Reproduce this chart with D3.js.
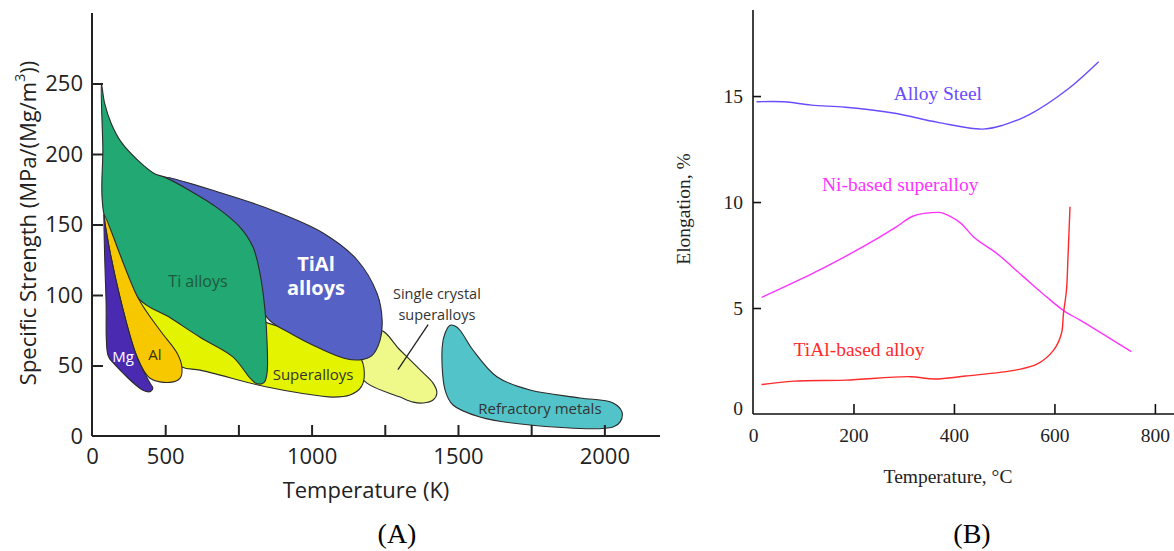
<!DOCTYPE html>
<html><head><meta charset="utf-8">
<script src="https://cdn.jsdelivr.net/npm/d3@7"></script>
<style>body{margin:0;background:#fff}svg{display:block}</style>
</head><body>
<svg id="c" width="1174" height="551"></svg>
<script>
// ---------- Panel A data: regions as [Temperature K, Specific strength] outlines ----------
const tiAlloys = [[282,250],[293,236],[316,221.5],[350,208.4],[407,195.5],[464,186],[498,183.6],[585,174],[677,162],[756,148],[800,134],[824,115],[841,89],[848,66],[848,45],[838,38],[814,37],[790,41],[732,56],[619,70],[516,84],[407,98],[291,157],[287,205]];
const tiAlAlloys = [[493,183.6],[697,172],[868,160],[1039,144],[1155,125],[1224,101],[1241,82],[1234,68],[1206,57],[1165,54],[1114,55],[1029,62],[926,73],[848,84],[790,118],[619,167]];
const superalloys = [[407,98],[560,90],[760,85],[930,75],[1100,64],[1165,56],[1180,45],[1170,35],[1131,29],[1073,27.6],[960,30.5],[848,34.7],[619,46.7],[557,49],[480,65]];
const singleCrystal = [[1165,64],[1234,75],[1302,61],[1370,47],[1415,37.5],[1428,30.5],[1415,25.5],[1381,23.4],[1347,24],[1302,27.6],[1189,37.5],[1150,48]];
const refractory = [[1490,78],[1507,75],[1551,61],[1633,42],[1746,32.6],[1917,27],[2030,23.4],[2060,17],[2054,10],[2030,6.4],[1746,7.8],[1575,13.5],[1483,22],[1456,32.6],[1446,63],[1456,73],[1473,78.6]];
const mgAlloys = [[291,157],[298,146],[346,98],[404,56],[448,37.5],[458,34],[450,31.5],[424,32.5],[322,52],[305,57],[298,96]];
const alAlloys = [[291,157],[407,98],[482,75],[540,59],[557,49],[551,41],[516,38],[448,41],[404,56],[346,98],[298,146]];
const regionNames = ["Single crystal superalloys","Superalloys","Refractory metals","TiAl alloys","Ti alloys","Al","Mg"];
const regionColors = ["#eef98a","#e4f400","#52c3c8","#5561c4","#22a873","#f7c800","#4a2ab0"];
const regionData = [singleCrystal, superalloys, refractory, tiAlAlloys, tiAlloys, alAlloys, mgAlloys];
const labelsA = [
  {t:"Mg", x:356, y:57, c:"#ffffff", w:"normal", s:15},
  {t:"Al", x:465, y:58, c:"#3a3000", w:"normal", s:15},
  {t:"Ti alloys", x:612, y:110, c:"#1d5a3c", w:"normal", s:16},
  {t:"TiAl", x:1015, y:122.5, c:"#ffffff", w:"bold", s:20},
  {t:"alloys", x:1015, y:105, c:"#ffffff", w:"bold", s:20},
  {t:"Superalloys", x:1005, y:44, c:"#333333", w:"normal", s:15},
  {t:"Single crystal", x:1428, y:101, c:"#333333", w:"normal", s:14.5},
  {t:"superalloys", x:1428, y:86, c:"#333333", w:"normal", s:14.5},
  {t:"Refractory metals", x:1780, y:20, c:"#333333", w:"normal", s:15}
];
const leaderLine = [[1295,47],[1398,79]];
const xTicksA = [250,500,750,1000,1250,1500,1750,2000];
const xLabelA = {250:"0",500:"500",1000:"1000",1500:"1500",2000:"2000"};
const yTicksA = [0,50,100,150,200,250];

// ---------- Panel B data ----------
const alloySteelT = [7,61,116,184,279,368,457,498,552,627,688];
const alloySteelE = [14.73,14.73,14.57,14.47,14.2,13.76,13.44,13.63,14.15,15.33,16.62];
const niSuperT = [17,116,157,253,286,319,369,378,412,442,485,538,584,621,651,753];
const niSuperE = [5.5,6.6,7.09,8.36,8.84,9.34,9.51,9.48,9.03,8.29,7.58,6.48,5.53,4.83,4.43,2.94];
const tialT = [17,82,184,313,361,423,525,566,598,614,618,624,627,631];
const tialE = [1.39,1.55,1.6,1.76,1.65,1.79,2.08,2.36,3.0,3.8,4.75,5.85,7.42,9.78];
const seriesB = [
  {name:"Alloy Steel", T:alloySteelT, E:alloySteelE, color:"#6a4cff", lx:368, ly:15.1},
  {name:"Ni-based superalloy", T:niSuperT, E:niSuperE, color:"#ff33ff", lx:293, ly:10.85},
  {name:"TiAl-based alloy", T:tialT, E:tialE, color:"#ff2a2a", lx:211, ly:3.02}
];
const xTicksB = [0,200,400,600,800];
const yTicksB = [0,5,10,15];

const svg = d3.select("#c");

// ================= Panel A =================
const sansA = "'Open Sans', 'Noto Sans', sans-serif";
const xA = d3.scaleLinear().domain([250, 2190]).range([92, 660]);
const yA = d3.scaleLinear().domain([0, 300]).range([436, 13]);
const gA = svg.append("g");

const area = d3.line().x(d=>xA(d[0])).y(d=>yA(d[1])).curve(d3.curveCatmullRomClosed.alpha(0.5));
gA.selectAll("path.region").data(regionData).join("path")
  .attr("class","region")
  .attr("d", d=>area(d))
  .attr("fill",(d,i)=>regionColors[i])
  .attr("stroke","#2b2b2b").attr("stroke-width",1.1);

gA.append("path").attr("d", d3.line().x(d=>xA(d[0])).y(d=>yA(d[1]))(leaderLine))
  .attr("stroke","#222").attr("stroke-width",1.3).attr("fill","none");

gA.selectAll("text.lab").data(labelsA).join("text").attr("class","lab")
  .attr("x",d=>xA(d.x)).attr("y",d=>yA(d.y))
  .attr("text-anchor","middle").attr("dominant-baseline","central")
  .attr("font-family",sansA).attr("font-size",d=>d.s).attr("font-weight",d=>d.w)
  .attr("fill",d=>d.c).text(d=>d.t);

// axes
const axA = gA.append("g").attr("transform",`translate(0,${yA(0)})`)
  .call(d3.axisBottom(xA).tickValues(xTicksA).tickSize(-11).tickPadding(12)
        .tickFormat(d=>xLabelA[d]||""));
axA.select(".domain").attr("d",`M${xA(250)},0H${xA(2190)}`);
const ayA = gA.append("g").attr("transform",`translate(${xA(250)},0)`)
  .call(d3.axisLeft(yA).tickValues(yTicksA).tickSize(-11).tickPadding(9));
ayA.select(".domain").attr("d",`M0,${yA(300)}V${yA(0)}`);
[axA, ayA].forEach(a=>{
  a.selectAll("path,line").attr("stroke","#222").attr("stroke-width",2);
  a.selectAll("text").attr("font-family",sansA).attr("font-size",22).attr("fill","#222");
});
axA.selectAll(".tick").filter(d=>d===250).select("line").remove();
ayA.selectAll(".tick").filter(d=>d===0).select("line").remove();

gA.append("text").attr("x",366).attr("y",489).attr("text-anchor","middle")
  .attr("dominant-baseline","central")
  .attr("font-family",sansA).attr("font-size",22).attr("fill","#222").text("Temperature (K)");
const yt = gA.append("text").attr("transform","translate(27,223) rotate(-90)")
  .attr("text-anchor","middle").attr("dominant-baseline","central")
  .attr("font-family",sansA).attr("font-size",22).attr("fill","#222");
yt.append("tspan").text("Specific Strength (MPa/(Mg/m");
yt.append("tspan").attr("dy",-8).attr("font-size",14).text("3");
yt.append("tspan").attr("dy",8).text("))");

svg.append("text").attr("x",397).attr("y",543).attr("text-anchor","middle")
  .attr("font-family","'Liberation Serif', 'Times New Roman', serif").attr("font-size",28)
  .attr("fill","#000").text("(A)");

// ================= Panel B =================
const serif = "'Liberation Serif', 'Times New Roman', serif";
const xB = d3.scaleLinear().domain([0, 838]).range([753, 1174]);
const yB = d3.scaleLinear().domain([0, 19.06]).range([414, 10]);
const gB = svg.append("g");

const lineB = d3.line().curve(d3.curveCatmullRom.alpha(0.5));
gB.selectAll("path.series").data(seriesB).join("path").attr("class","series")
  .attr("d", s=>lineB(s.T.map((t,i)=>[xB(t), yB(s.E[i])])))
  .attr("fill","none").attr("stroke",s=>s.color).attr("stroke-width",1.4);
gB.selectAll("text.sl").data(seriesB).join("text").attr("class","sl")
  .attr("x",s=>xB(s.lx)).attr("y",s=>yB(s.ly))
  .attr("text-anchor","middle").attr("dominant-baseline","central")
  .attr("font-family",serif).attr("font-size",19.5).attr("fill",s=>s.color).text(s=>s.name);

const axB = gB.append("g").attr("transform",`translate(0,${yB(0)})`)
  .call(d3.axisBottom(xB).tickValues(xTicksB).tickSize(-10).tickPadding(14));
axB.select(".domain").attr("d",`M${xB(0)},0H1174`);
const ayB = gB.append("g").attr("transform",`translate(${xB(0)},0)`)
  .call(d3.axisLeft(yB).tickValues(yTicksB).tickSize(-8).tickPadding(10));
ayB.select(".domain").attr("d",`M0,${yB(19.06)}V${yB(0)}`);
[axB, ayB].forEach(a=>{
  a.selectAll("path,line").attr("stroke","#111").attr("stroke-width",1.6);
  a.selectAll("text").attr("font-family",serif).attr("font-size",19.5).attr("fill","#222");
});
axB.selectAll(".tick").filter(d=>d===0).select("line").remove();
ayB.selectAll(".tick").filter(d=>d===0).select("line").remove();
ayB.selectAll(".tick").filter(d=>d===0).select("text").attr("dy","0.05em");

gB.append("text").attr("x",948).attr("y",476).attr("text-anchor","middle")
  .attr("dominant-baseline","central")
  .attr("font-family",serif).attr("font-size",19.5).attr("fill","#222").text("Temperature, \u00B0C");
gB.append("text").attr("transform","translate(683,209) rotate(-90)")
  .attr("text-anchor","middle").attr("dominant-baseline","central")
  .attr("font-family",serif).attr("font-size",19.5).attr("fill","#222").text("Elongation, %");

svg.append("text").attr("x",972).attr("y",543).attr("text-anchor","middle")
  .attr("font-family",serif).attr("font-size",28).attr("fill","#000").text("(B)");
</script>
</body></html>
